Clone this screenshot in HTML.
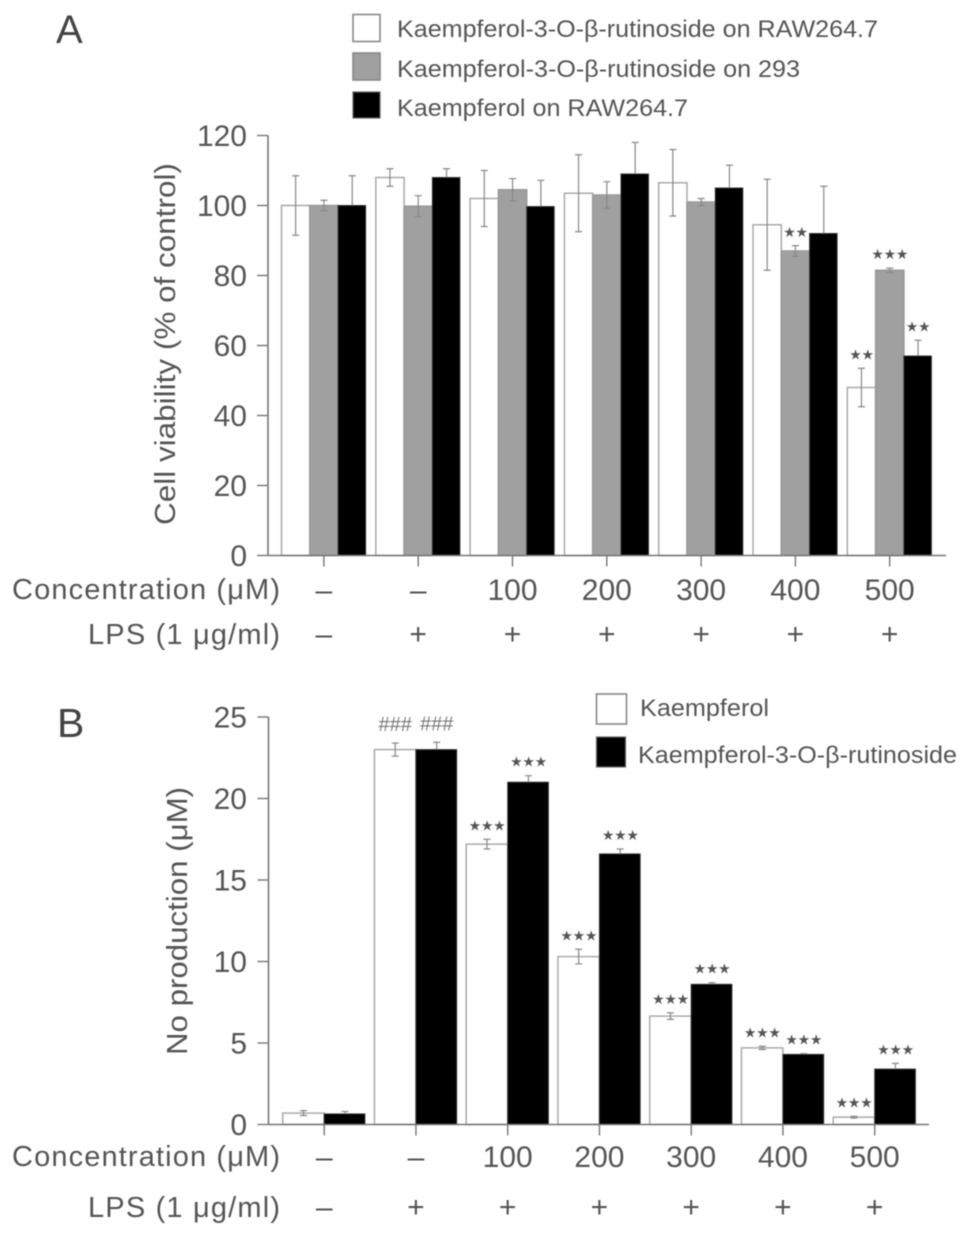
<!DOCTYPE html>
<html lang="en">
<head>
<meta charset="utf-8">
<title>Cell viability and NO production charts</title>
<style>
html,body{margin:0;padding:0;background:#fff;width:969px;height:1236px;overflow:hidden}
svg{display:block;filter:blur(.5px)}
text{font-family:"Liberation Sans","DejaVu Sans",sans-serif;fill:#555}
.tick{font-size:30px}
.leg{font-size:24px}
.stars{font-family:"DejaVu Sans",sans-serif;font-size:14px;letter-spacing:-.3px;fill:#555}
.hash{font-size:20px;fill:#777}
</style>
</head>
<body>
<svg id="figure" width="969" height="1236" viewBox="0 0 969 1236" xmlns="http://www.w3.org/2000/svg">
  <text x="56" y="43" font-size="40" style="fill:#444">A</text>
  <text x="57" y="737" font-size="41" style="fill:#444">B</text>

  <g>
    <g>
      <rect x="353" y="14.5" width="27" height="27" fill="#fff" stroke="#888" stroke-width="1.6"/>
      <text class="leg" x="397" y="37" textLength="481" lengthAdjust="spacingAndGlyphs">Kaempferol-3-O-β-rutinoside on RAW264.7</text>
    </g>
    <g>
      <rect x="353" y="53" width="27" height="27" fill="#a0a0a0" stroke="#888" stroke-width="1.6"/>
      <text class="leg" x="397" y="77" textLength="403" lengthAdjust="spacingAndGlyphs">Kaempferol-3-O-β-rutinoside on 293</text>
    </g>
    <g>
      <rect x="353" y="92" width="27" height="26" fill="#000" stroke="#666" stroke-width="1.2"/>
      <text class="leg" x="397" y="116" textLength="291" lengthAdjust="spacingAndGlyphs">Kaempferol on RAW264.7</text>
    </g>
  </g>

  <g>
    <g>
      <rect x="596.5" y="694" width="30" height="30" fill="#fff" stroke="#888" stroke-width="1.6"/>
      <text class="leg" x="640" y="716" textLength="129" lengthAdjust="spacingAndGlyphs">Kaempferol</text>
    </g>
    <g>
      <rect x="596.5" y="737" width="29" height="30" fill="#000" stroke="#666" stroke-width="1.2"/>
      <text class="leg" x="638" y="763" textLength="319" lengthAdjust="spacingAndGlyphs">Kaempferol-3-O-β-rutinoside</text>
    </g>
  </g>

  <text font-size="29" transform="translate(175,525) rotate(-90)" textLength="362" lengthAdjust="spacingAndGlyphs">Cell viability (% of control)</text>
  <text font-size="29" transform="translate(187,1055) rotate(-90)" textLength="268" lengthAdjust="spacingAndGlyphs">No production (μM)</text>

  <text font-size="29" x="12" y="599" textLength="268" lengthAdjust="spacing">Concentration (μM)</text>
  <text font-size="29" x="88" y="644" textLength="192" lengthAdjust="spacing">LPS (1 μg/ml)</text>
  <text font-size="29" x="12" y="1166" textLength="268" lengthAdjust="spacing">Concentration (μM)</text>
  <text font-size="29" x="88" y="1217" textLength="192" lengthAdjust="spacing">LPS (1 μg/ml)</text>

  <g id="chart-a"></g>
  <g id="chart-b"></g>
</svg>

<script>
// Shared categories
const concentrationLabels = ["–", "–", "100", "200", "300", "400", "500"];
const lpsLabels = ["–", "+", "+", "+", "+", "+", "+"];

// Panel A data
const aTicks = [0, 20, 40, 60, 80, 100, 120];
const aWhite = [100, 108, 102, 103.5, 106.5, 94.5, 48];
const aWhiteErr = [8.5, 2.5, 8, 11, 9.5, 13, 5.5];
const aGray = [100, 99.8, 104.5, 103, 101, 87, 81.5];
const aGrayErr = [1.5, 3, 3.2, 3.8, 1, 1.5, 0.6];
const aBlack = [100, 108, 99.7, 109, 105, 92, 57];
const aBlackErr = [8.5, 2.5, 7.5, 9, 6.5, 13.5, 4.5];
const aWhiteSig = ["", "", "", "", "", "", "★★"];
const aGraySig = ["", "", "", "", "", "★★", "★★★"];
const aBlackSig = ["", "", "", "", "", "", "★★"];

// Panel B data
const bTicks = [0, 5, 10, 15, 20, 25];
const bWhite = [0.7, 23, 17.2, 10.3, 6.65, 4.7, 0.45];
const bWhiteErr = [0.15, 0.4, 0.3, 0.45, 0.2, 0.1, 0.05];
const bBlack = [0.65, 23, 21, 16.6, 8.6, 4.3, 3.4];
const bBlackErr = [0.15, 0.45, 0.4, 0.3, 0.1, 0.05, 0.35];
const bWhiteSig = ["", "###", "★★★", "★★★", "★★★", "★★★", "★★★"];
const bBlackSig = ["", "###", "★★★", "★★★", "★★★", "★★★", "★★★"];

const NS = "http://www.w3.org/2000/svg";
function make(parent, tag, attrs, text) {
  const node = document.createElementNS(NS, tag);
  for (const k in attrs) node.setAttribute(k, attrs[k]);
  if (text !== undefined) node.textContent = text;
  parent.appendChild(node);
  return node;
}

function drawChart(root, cfg) {
  const yOf = v => cfg.zero - v * cfg.scale;
  const groupX = i => cfg.barStart + i * cfg.groupStep;
  const tickX = i => cfg.tickStart + i * cfg.groupStep;

  // Bars, then error bars, then significance marks
  cfg.series.forEach((s, si) => {
    s.values.forEach((v, i) => {
      const x = groupX(i) + si * cfg.barWidth;
      const bar = make(root, "rect", {
        x: x, y: yOf(v), width: cfg.barWidth - (s.upperOnly ? 0.8 : 0), height: cfg.zero - yOf(v),
        fill: s.fill, stroke: s.stroke, "stroke-width": s.upperOnly ? 1 : 1.5
      });
      
      
    });
  });
  cfg.series.forEach((s, si) => {
    s.values.forEach((v, i) => {
      const cx = groupX(i) + (si + 0.5) * cfg.barWidth;
      const top = yOf(v + s.errs[i]);
      const bottom = s.upperOnly ? yOf(v) : yOf(v - s.errs[i]);
      const err = make(root, "path", {
        d: "M" + cx + " " + bottom + "V" + top + "M" + (cx - 3.5) + " " + top + "H" + (cx + 3.5) +
           (s.upperOnly ? "" : "M" + (cx - 3.5) + " " + bottom + "H" + (cx + 3.5)),
        fill: "none", stroke: "#888", "stroke-width": 1.2
      });
      
      
      const mark = s.sig[i];
      if (mark) {
        const isHash = mark.charAt(0) === "#";
        const sigText = make(root, "text", {
          x: cx, y: top - (isHash ? 12 : 9), "text-anchor": "middle",
          "class": isHash ? "hash" : "stars"
        }, mark);
        
        
      }
    });
  });

  // Axes
  const yAxis = make(root, "line", {
    x1: cfg.axisX, x2: cfg.axisX, y1: yOf(cfg.yTicks[cfg.yTicks.length - 1]), y2: cfg.zero,
    stroke: "#777", "stroke-width": 1.6
  });
  
  
  const xAxis = make(root, "line", {
    x1: cfg.axisX, x2: cfg.axisEnd, y1: cfg.zero, y2: cfg.zero,
    stroke: "#777", "stroke-width": 1.6
  });
  
  

  cfg.yTicks.forEach(t => {
    const tick = make(root, "line", {
      x1: cfg.axisX - 11, x2: cfg.axisX, y1: yOf(t), y2: yOf(t), stroke: "#777", "stroke-width": 1.4
    });
    
    
    const label = make(root, "text", {
      x: 247, y: yOf(t) + 10.5, "text-anchor": "end", "class": "tick"
    }, String(t));
    
    
  });

  concentrationLabels.forEach((c, i) => {
    const tick = make(root, "line", {
      x1: tickX(i), x2: tickX(i), y1: cfg.zero, y2: cfg.zero + 11, stroke: "#777", "stroke-width": 1.4
    });
    
    
    const concText = make(root, "text", {
      x: tickX(i), y: cfg.row1, "text-anchor": "middle", "class": "tick"
    }, c);
    
    
    const lpsText = make(root, "text", {
      x: tickX(i), y: cfg.row2, "text-anchor": "middle", "class": "tick"
    }, lpsLabels[i]);
    
    
  });
}

drawChart(document.getElementById("chart-a"), {
  zero: 555.5, scale: 3.5, axisX: 268, axisEnd: 946,
  barStart: 281.5, barWidth: 28.3, groupStep: 94.3, tickStart: 323.9,
  row1: 600, row2: 644, yTicks: aTicks,
  series: [
    {key: "a-white", values: aWhite, errs: aWhiteErr, sig: aWhiteSig, fill: "#fff", stroke: "#aaa"},
    {key: "a-gray", values: aGray, errs: aGrayErr, sig: aGraySig, fill: "#a0a0a0", stroke: "#999"},
    {key: "a-black", values: aBlack, errs: aBlackErr, sig: aBlackSig, fill: "#000", stroke: "#333", upperOnly: true}
  ]
});

drawChart(document.getElementById("chart-b"), {
  zero: 1124.5, scale: 16.3, axisX: 268.5, axisEnd: 929,
  barStart: 282.7, barWidth: 41.5, groupStep: 91.75, tickStart: 324.2,
  row1: 1167, row2: 1217, yTicks: bTicks,
  series: [
    {key: "b-white", values: bWhite, errs: bWhiteErr, sig: bWhiteSig, fill: "#fff", stroke: "#aaa"},
    {key: "b-black", values: bBlack, errs: bBlackErr, sig: bBlackSig, fill: "#000", stroke: "#333", upperOnly: true}
  ]
});
</script>
</body>
</html>
